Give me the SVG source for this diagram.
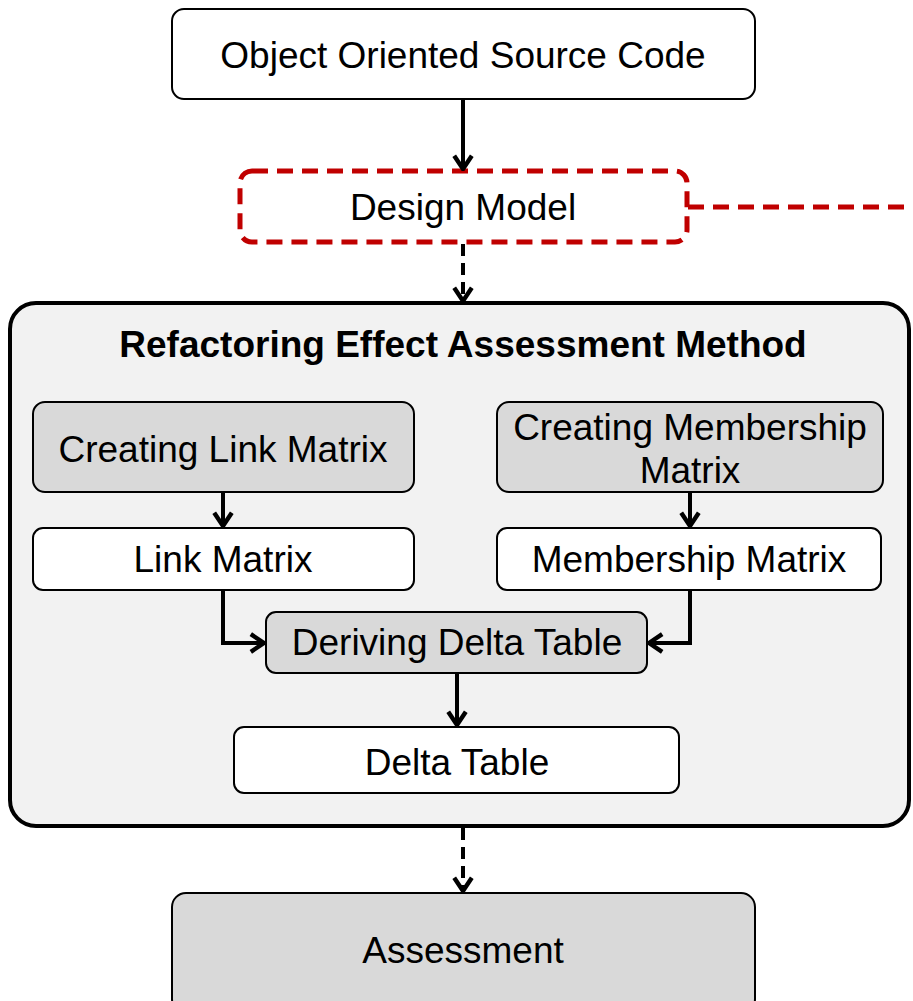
<svg xmlns="http://www.w3.org/2000/svg" width="913" height="1001" viewBox="0 0 913 1001">
<style>
text{font-family:"Liberation Sans",Arial,sans-serif;font-size:37px;fill:#000;text-anchor:middle}
.t{font-weight:bold;font-size:37px}
.w{fill:#fff;stroke:#000;stroke-width:2}
.g{fill:#d9d9d9;stroke:#000;stroke-width:2}
.c{fill:none;stroke:#000;stroke-width:4}
.d{stroke-dasharray:12 7}
</style>
<defs>
<marker id="a" viewBox="0 0 20 20" refX="18" refY="10" markerWidth="22" markerHeight="22" markerUnits="userSpaceOnUse" orient="auto">
<path d="M6,2 L18,10 L6,18" fill="none" stroke="#000" stroke-width="4"/>
</marker>
</defs>
<g id="container">
<rect x="10" y="303" width="899" height="523" rx="26" fill="#f2f2f2" stroke="#000" stroke-width="4"/>
<text class="t" x="463" y="357">Refactoring Effect Assessment Method</text>
</g>
<g id="source"><rect class="w" x="172" y="9" width="583" height="90" rx="12"/><text x="463" y="68">Object Oriented Source Code</text></g>
<g id="design"><rect x="240" y="171" width="447" height="71" rx="12" fill="#fff" stroke="#c00000" stroke-width="5" stroke-dasharray="16 9"/><text x="463" y="220">Design Model</text></g>
<g id="clm"><rect class="g" x="33" y="402" width="381" height="90" rx="12"/><text x="223" y="462">Creating Link Matrix</text></g>
<g id="cmm"><rect class="g" x="497" y="402" width="386" height="90" rx="12"/><text x="690" y="440">Creating Membership</text><text x="690" y="483">Matrix</text></g>
<g id="lm"><rect class="w" x="33" y="528" width="381" height="62" rx="10"/><text x="223" y="572">Link Matrix</text></g>
<g id="mm"><rect class="w" x="497" y="528" width="384" height="62" rx="10"/><text x="689" y="572">Membership Matrix</text></g>
<g id="ddt"><rect class="g" x="266" y="612" width="381" height="61" rx="10"/><text x="457" y="655">Deriving Delta Table</text></g>
<g id="dt"><rect class="w" x="234" y="727" width="445" height="66" rx="10"/><text x="457" y="775">Delta Table</text></g>
<g id="assess"><rect class="g" x="172" y="893" width="583" height="120" rx="14"/><text x="463" y="963">Assessment</text></g>
<g id="connectors">
<path class="c" d="M463,99 V169" marker-end="url(#a)"/>
<path class="c d" d="M463,244 V301" marker-end="url(#a)"/>
<path d="M688,207 H913" fill="none" stroke="#c00000" stroke-width="5" stroke-dasharray="16 9"/>
<path class="c" d="M223,492 V526" marker-end="url(#a)"/>
<path class="c" d="M690,492 V526" marker-end="url(#a)"/>
<path class="c" d="M223,590 V643 H264" marker-end="url(#a)"/>
<path class="c" d="M690,590 V643 H649" marker-end="url(#a)"/>
<path class="c" d="M457,673 V725" marker-end="url(#a)"/>
<path class="c d" d="M463,828 V891" marker-end="url(#a)"/>
</g>
</svg>
